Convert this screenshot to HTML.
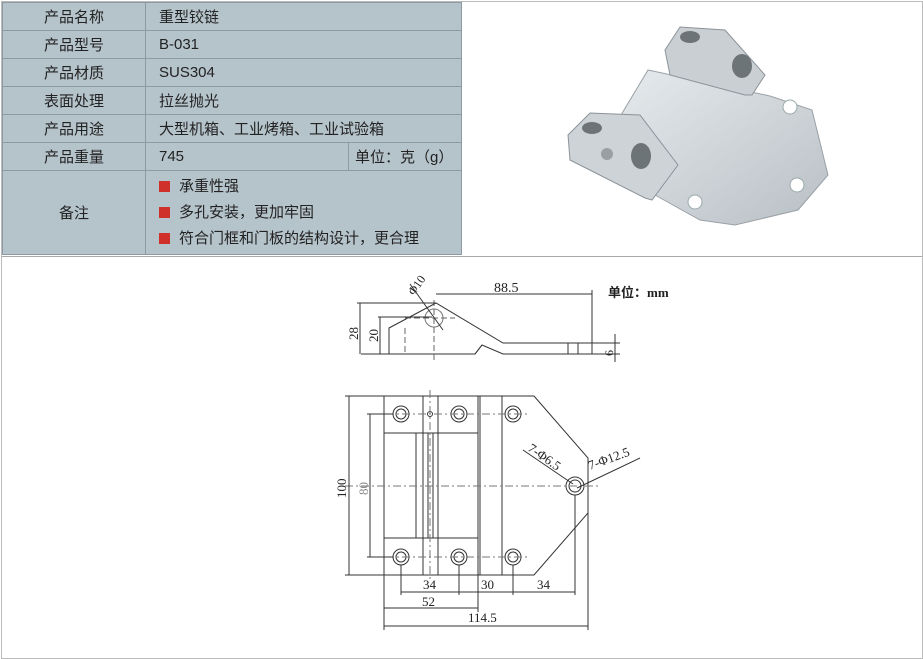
<!DOCTYPE html>
<html><head><meta charset="utf-8"><style>
html,body{margin:0;padding:0;background:#fff}
body{width:923px;height:659px;position:relative;overflow:hidden;font-family:"Liberation Sans","Noto Sans CJK SC",sans-serif}
.frame{position:absolute;left:1px;top:1px;width:920px;height:656px;border:1px solid #bbb}
table{position:absolute;left:2px;top:2px;border-collapse:collapse;background:#b5c3cb;font-size:15px;color:#222}
td{border:1px solid #8e9aa1;padding:0;height:27px}
td.k{width:142px;text-align:center}
td.v{padding-left:13px}
.sq{display:inline-block;width:11px;height:11px;background:#d0302a;margin-right:9px;vertical-align:-1px}
.hl{position:absolute;left:2px;top:256px;width:920px;height:1px;background:#aaa}
svg text{font-family:"Liberation Serif","Noto Sans CJK SC",serif}
</style></head><body>
<div class="frame"></div>
<table>
<tr><td class="k">产品名称</td><td class="v" colspan="2" style="width:300px">重型铰链</td></tr>
<tr><td class="k">产品型号</td><td class="v" colspan="2">B-031</td></tr>
<tr><td class="k">产品材质</td><td class="v" colspan="2">SUS304</td></tr>
<tr><td class="k">表面处理</td><td class="v" colspan="2">拉丝抛光</td></tr>
<tr><td class="k">产品用途</td><td class="v" colspan="2">大型机箱、工业烤箱、工业试验箱</td></tr>
<tr><td class="k">产品重量</td><td class="v" style="width:189px">745</td><td style="padding-left:6px;width:106px">单位：克（g）</td></tr>
<tr><td class="k" style="height:83px">备注</td><td class="v" colspan="2" style="line-height:26px"><span class="sq"></span>承重性强<br><span class="sq"></span>多孔安装，更加牢固<br><span class="sq"></span>符合门框和门板的结构设计，更合理</td></tr>
</table>
<div class="hl"></div>
<svg width="923" height="659" style="position:absolute;left:0;top:0">
<defs><linearGradient id="g" x1="0" y1="0" x2="1" y2="1"><stop offset="0" stop-color="#e8ecef"/><stop offset="1" stop-color="#b8bfc4"/></linearGradient></defs>
<!-- photo -->
<polygon points="648,70 770,96 812,110 828,175 798,210 735,225 700,220 655,195 600,150" fill="url(#g)" stroke="#9aa1a6"/>
<polygon points="665,50 680,27 725,30 765,75 752,95 745,95 670,75" fill="#c9cfd3" stroke="#8c9398"/>
<polygon points="568,135 590,113 640,115 678,165 652,200 645,198 570,160" fill="#cdd3d7" stroke="#8c9398"/>
<ellipse cx="592" cy="128" rx="10" ry="6" fill="#6d7478"/><ellipse cx="641" cy="156" rx="10" ry="13" fill="#6d7478"/>
<ellipse cx="690" cy="37" rx="10" ry="6" fill="#6d7478"/><ellipse cx="742" cy="66" rx="10" ry="12" fill="#6d7478"/>
<circle cx="607" cy="154" r="6" fill="#999fa3"/>
<circle cx="790" cy="107" r="7" fill="#fff" stroke="#9aa"/><circle cx="797" cy="185" r="7" fill="#fff" stroke="#9aa"/><circle cx="695" cy="202" r="7" fill="#fff" stroke="#9aa"/>
<g stroke="#333" fill="none" stroke-width="1">
<!-- side view -->
<path d="M389,328 L436,303 L503,343 L592,343 L592,354 L503,354 L482,345 L475,354 L389,354 Z"/>
<path d="M475,354 L482,345"/>
<line x1="568" y1="343" x2="568" y2="354"/><line x1="578" y1="343" x2="578" y2="354"/>
<circle cx="434" cy="318" r="9" stroke="#777"/>
<g stroke="#666" stroke-dasharray="6,3"><line x1="434" y1="300" x2="434" y2="360"/><line x1="405" y1="318" x2="455" y2="318"/><line x1="405" y1="328" x2="405" y2="354"/></g>
<line x1="410" y1="284" x2="443" y2="330"/>
<line x1="436" y1="294" x2="592" y2="294"/><line x1="592" y1="290" x2="592" y2="343"/>
<line x1="357" y1="303" x2="436" y2="303"/><line x1="361" y1="354" x2="389" y2="354"/><line x1="360" y1="303" x2="360" y2="354"/>
<line x1="378" y1="317" x2="432" y2="317"/><line x1="380" y1="317" x2="380" y2="354"/>
<line x1="592" y1="343" x2="620" y2="343"/><line x1="592" y1="354" x2="620" y2="354"/><line x1="615" y1="334" x2="615" y2="362"/>
<!-- bottom view -->
<path d="M384,396 L534,396 L588,458 L588,513 L534,575 L384,575 Z"/>
<rect x="384" y="396" width="94" height="37"/><rect x="384" y="538" width="94" height="37"/>
<line x1="423" y1="396" x2="423" y2="575"/><line x1="438" y1="396" x2="438" y2="575"/>
<line x1="416" y1="433" x2="416" y2="538"/><line x1="428" y1="433" x2="428" y2="538"/><line x1="433" y1="433" x2="433" y2="538"/>
<line x1="480" y1="396" x2="480" y2="575"/><line x1="478" y1="396" x2="478" y2="575"/><line x1="502" y1="396" x2="502" y2="575"/>
<circle cx="401" cy="414" r="8"/><circle cx="401" cy="414" r="5"/>
<circle cx="459" cy="414" r="8"/><circle cx="459" cy="414" r="5"/>
<circle cx="513" cy="414" r="8"/><circle cx="513" cy="414" r="5"/>
<circle cx="401" cy="557" r="8"/><circle cx="401" cy="557" r="5"/>
<circle cx="459" cy="557" r="8"/><circle cx="459" cy="557" r="5"/>
<circle cx="513" cy="557" r="8"/><circle cx="513" cy="557" r="5"/>
<circle cx="575" cy="486" r="9"/><circle cx="575" cy="486" r="6"/><circle cx="430" cy="414" r="2.5"/>
<g stroke="#777" stroke-dasharray="8,3,2,3"><line x1="370" y1="414" x2="530" y2="414"/><line x1="370" y1="557" x2="530" y2="557"/><line x1="345" y1="486" x2="600" y2="486"/><line x1="430" y1="390" x2="430" y2="580"/></g>
<line x1="345" y1="396" x2="384" y2="396"/><line x1="345" y1="575" x2="384" y2="575"/><line x1="349" y1="396" x2="349" y2="575"/>
<line x1="367" y1="414" x2="393" y2="414"/><line x1="367" y1="557" x2="393" y2="557"/><line x1="370" y1="414" x2="370" y2="557"/>
<line x1="523" y1="450" x2="573" y2="484"/><line x1="577" y1="488" x2="640" y2="458"/>
<line x1="401" y1="565" x2="401" y2="595"/><line x1="459" y1="565" x2="459" y2="595"/><line x1="513" y1="565" x2="513" y2="595"/><line x1="575" y1="495" x2="575" y2="595"/>
<line x1="401" y1="592" x2="575" y2="592"/>
<line x1="384" y1="575" x2="384" y2="630"/><line x1="478" y1="575" x2="478" y2="612"/><line x1="588" y1="513" x2="588" y2="630"/>
<line x1="384" y1="608" x2="478" y2="608"/><line x1="384" y1="626" x2="588" y2="626"/>
</g>
<g font-size="14" fill="#222">
<text x="494" y="292">88.5</text>
<text x="608" y="297" font-family="Liberation Sans,Noto Sans CJK SC,sans-serif" font-size="13" font-weight="bold">单位：mm</text>
<text transform="translate(414,296) rotate(-55)" font-size="12">Φ10</text>
<text transform="translate(358,340) rotate(-90)" font-size="13">28</text>
<text transform="translate(378,342) rotate(-90)" font-size="13">20</text>
<text transform="translate(613,356) rotate(-90)" font-size="12">6</text>
<text transform="translate(346,498) rotate(-90)" font-size="13">100</text>
<text transform="translate(368,495) rotate(-90)" font-size="13" fill="#888">80</text>
<text transform="translate(527,450) rotate(35)" font-size="13">7-Φ6.5</text>
<text transform="translate(590,470) rotate(-20)" font-size="13">7-Φ12.5</text>
<text x="423" y="589" font-size="13">34</text><text x="481" y="589" font-size="13">30</text><text x="537" y="589" font-size="13">34</text>
<text x="422" y="606" font-size="13">52</text><text x="468" y="622" font-size="13">114.5</text>
</g>
</svg>
</body></html>
